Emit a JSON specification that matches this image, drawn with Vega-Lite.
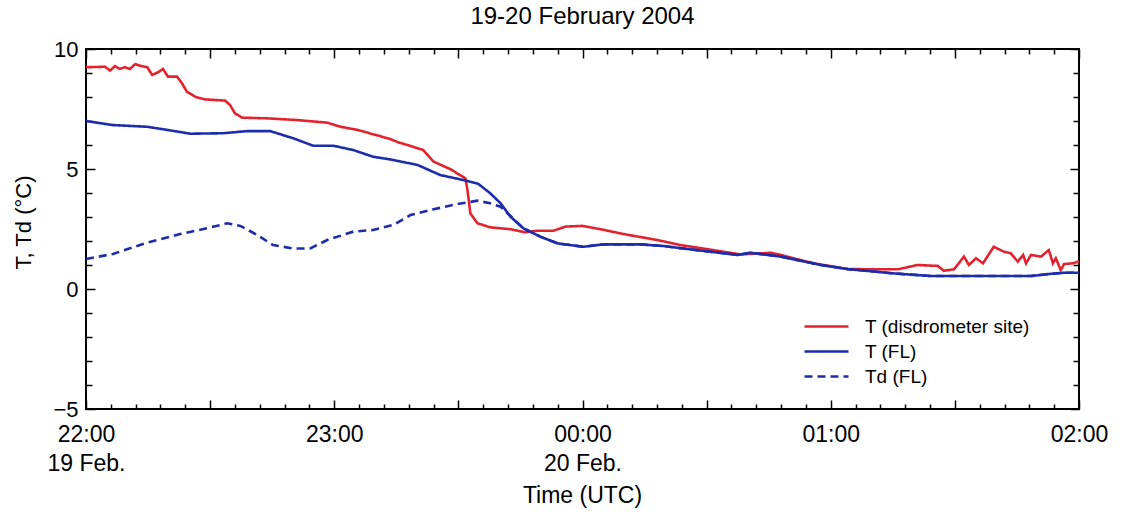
{
  "$schema": "https://vega.github.io/schema/vega-lite/v6.json",
  "width": 993,
  "height": 360,
  "autosize": "none",
  "padding": {"left": 86, "top": 49, "right": 42, "bottom": 107},
  "background": "white",
  "config": {
    "font": "Liberation Sans",
    "view": {"stroke": "black", "strokeWidth": 2},
    "axis": {"domain": false, "grid": false, "tickColor": "black", "tickWidth": 1.5, "labelColor": "black", "titleColor": "black", "labelFont": "Liberation Sans", "titleFont": "Liberation Sans", "titleFontWeight": "normal"}
  },
  "title": {"text": "19-20 February 2004", "fontSize": 24, "fontWeight": "normal", "font": "Liberation Sans", "color": "black", "anchor": "middle", "frame": "group", "baseline": "alphabetic", "offset": 21, "dy": 31},
  "datasets": {
    "temps": [
      {"min": 0, "T": 9.24, "series": "T (disdrometer site)"},
      {"min": 4.6, "T": 9.26, "series": "T (disdrometer site)"},
      {"min": 5.8, "T": 9.1, "series": "T (disdrometer site)"},
      {"min": 7.0, "T": 9.29, "series": "T (disdrometer site)"},
      {"min": 8.2, "T": 9.17, "series": "T (disdrometer site)"},
      {"min": 9.4, "T": 9.24, "series": "T (disdrometer site)"},
      {"min": 10.6, "T": 9.17, "series": "T (disdrometer site)"},
      {"min": 11.9, "T": 9.37, "series": "T (disdrometer site)"},
      {"min": 13.1, "T": 9.3, "series": "T (disdrometer site)"},
      {"min": 14.8, "T": 9.24, "series": "T (disdrometer site)"},
      {"min": 16.0, "T": 8.92, "series": "T (disdrometer site)"},
      {"min": 17.4, "T": 9.03, "series": "T (disdrometer site)"},
      {"min": 18.6, "T": 9.17, "series": "T (disdrometer site)"},
      {"min": 19.8, "T": 8.85, "series": "T (disdrometer site)"},
      {"min": 22.0, "T": 8.85, "series": "T (disdrometer site)"},
      {"min": 23.2, "T": 8.57, "series": "T (disdrometer site)"},
      {"min": 24.4, "T": 8.22, "series": "T (disdrometer site)"},
      {"min": 26.4, "T": 8.01, "series": "T (disdrometer site)"},
      {"min": 28.8, "T": 7.9, "series": "T (disdrometer site)"},
      {"min": 33.6, "T": 7.85, "series": "T (disdrometer site)"},
      {"min": 34.8, "T": 7.67, "series": "T (disdrometer site)"},
      {"min": 36.0, "T": 7.32, "series": "T (disdrometer site)"},
      {"min": 37.7, "T": 7.14, "series": "T (disdrometer site)"},
      {"min": 43.8, "T": 7.11, "series": "T (disdrometer site)"},
      {"min": 51.0, "T": 7.04, "series": "T (disdrometer site)"},
      {"min": 58.3, "T": 6.93, "series": "T (disdrometer site)"},
      {"min": 61.5, "T": 6.76, "series": "T (disdrometer site)"},
      {"min": 65.6, "T": 6.63, "series": "T (disdrometer site)"},
      {"min": 69.4, "T": 6.45, "series": "T (disdrometer site)"},
      {"min": 73.5, "T": 6.25, "series": "T (disdrometer site)"},
      {"min": 75.5, "T": 6.11, "series": "T (disdrometer site)"},
      {"min": 77.7, "T": 6.0, "series": "T (disdrometer site)"},
      {"min": 81.5, "T": 5.79, "series": "T (disdrometer site)"},
      {"min": 84.0, "T": 5.31, "series": "T (disdrometer site)"},
      {"min": 88.1, "T": 4.99, "series": "T (disdrometer site)"},
      {"min": 91.7, "T": 4.61, "series": "T (disdrometer site)"},
      {"min": 92.2, "T": 4.12, "series": "T (disdrometer site)"},
      {"min": 92.9, "T": 3.15, "series": "T (disdrometer site)"},
      {"min": 94.6, "T": 2.74, "series": "T (disdrometer site)"},
      {"min": 97.7, "T": 2.57, "series": "T (disdrometer site)"},
      {"min": 102.6, "T": 2.49, "series": "T (disdrometer site)"},
      {"min": 106.2, "T": 2.36, "series": "T (disdrometer site)"},
      {"min": 109.1, "T": 2.43, "series": "T (disdrometer site)"},
      {"min": 113.0, "T": 2.43, "series": "T (disdrometer site)"},
      {"min": 115.9, "T": 2.6, "series": "T (disdrometer site)"},
      {"min": 120.0, "T": 2.63, "series": "T (disdrometer site)"},
      {"min": 124.4, "T": 2.49, "series": "T (disdrometer site)"},
      {"min": 129.9, "T": 2.29, "series": "T (disdrometer site)"},
      {"min": 138.1, "T": 2.04, "series": "T (disdrometer site)"},
      {"min": 143.7, "T": 1.83, "series": "T (disdrometer site)"},
      {"min": 151.7, "T": 1.62, "series": "T (disdrometer site)"},
      {"min": 158.2, "T": 1.44, "series": "T (disdrometer site)"},
      {"min": 165.5, "T": 1.51, "series": "T (disdrometer site)"},
      {"min": 167.9, "T": 1.42, "series": "T (disdrometer site)"},
      {"min": 175.9, "T": 1.07, "series": "T (disdrometer site)"},
      {"min": 184.1, "T": 0.83, "series": "T (disdrometer site)"},
      {"min": 192.1, "T": 0.82, "series": "T (disdrometer site)"},
      {"min": 196.2, "T": 0.82, "series": "T (disdrometer site)"},
      {"min": 201.0, "T": 1.0, "series": "T (disdrometer site)"},
      {"min": 205.9, "T": 0.96, "series": "T (disdrometer site)"},
      {"min": 207.3, "T": 0.76, "series": "T (disdrometer site)"},
      {"min": 209.8, "T": 0.82, "series": "T (disdrometer site)"},
      {"min": 212.2, "T": 1.35, "series": "T (disdrometer site)"},
      {"min": 213.4, "T": 1.0, "series": "T (disdrometer site)"},
      {"min": 215.1, "T": 1.28, "series": "T (disdrometer site)"},
      {"min": 216.8, "T": 1.07, "series": "T (disdrometer site)"},
      {"min": 219.4, "T": 1.76, "series": "T (disdrometer site)"},
      {"min": 221.9, "T": 1.55, "series": "T (disdrometer site)"},
      {"min": 223.5, "T": 1.49, "series": "T (disdrometer site)"},
      {"min": 225.2, "T": 1.14, "series": "T (disdrometer site)"},
      {"min": 226.5, "T": 1.42, "series": "T (disdrometer site)"},
      {"min": 227.2, "T": 1.07, "series": "T (disdrometer site)"},
      {"min": 228.4, "T": 1.42, "series": "T (disdrometer site)"},
      {"min": 230.8, "T": 1.35, "series": "T (disdrometer site)"},
      {"min": 232.7, "T": 1.62, "series": "T (disdrometer site)"},
      {"min": 233.7, "T": 1.07, "series": "T (disdrometer site)"},
      {"min": 234.4, "T": 1.28, "series": "T (disdrometer site)"},
      {"min": 235.6, "T": 0.79, "series": "T (disdrometer site)"},
      {"min": 236.4, "T": 1.04, "series": "T (disdrometer site)"},
      {"min": 238.5, "T": 1.07, "series": "T (disdrometer site)"},
      {"min": 240, "T": 1.15, "series": "T (disdrometer site)"},

      {"min": 0, "T": 7.0, "series": "T (FL)"},
      {"min": 6.5, "T": 6.83, "series": "T (FL)"},
      {"min": 14.8, "T": 6.76, "series": "T (FL)"},
      {"min": 19.6, "T": 6.63, "series": "T (FL)"},
      {"min": 25.2, "T": 6.47, "series": "T (FL)"},
      {"min": 33.1, "T": 6.49, "series": "T (FL)"},
      {"min": 39.0, "T": 6.58, "series": "T (FL)"},
      {"min": 44.5, "T": 6.58, "series": "T (FL)"},
      {"min": 50.1, "T": 6.28, "series": "T (FL)"},
      {"min": 54.9, "T": 5.97, "series": "T (FL)"},
      {"min": 59.8, "T": 5.97, "series": "T (FL)"},
      {"min": 64.6, "T": 5.79, "series": "T (FL)"},
      {"min": 69.4, "T": 5.51, "series": "T (FL)"},
      {"min": 73.5, "T": 5.4, "series": "T (FL)"},
      {"min": 80.1, "T": 5.17, "series": "T (FL)"},
      {"min": 85.6, "T": 4.75, "series": "T (FL)"},
      {"min": 91.2, "T": 4.54, "series": "T (FL)"},
      {"min": 94.8, "T": 4.38, "series": "T (FL)"},
      {"min": 97.7, "T": 3.99, "series": "T (FL)"},
      {"min": 100.2, "T": 3.57, "series": "T (FL)"},
      {"min": 102.6, "T": 3.01, "series": "T (FL)"},
      {"min": 105.7, "T": 2.53, "series": "T (FL)"},
      {"min": 109.8, "T": 2.18, "series": "T (FL)"},
      {"min": 114.0, "T": 1.9, "series": "T (FL)"},
      {"min": 120.2, "T": 1.76, "series": "T (FL)"},
      {"min": 125.1, "T": 1.86, "series": "T (FL)"},
      {"min": 134.0, "T": 1.86, "series": "T (FL)"},
      {"min": 139.6, "T": 1.79, "series": "T (FL)"},
      {"min": 146.1, "T": 1.65, "series": "T (FL)"},
      {"min": 157.5, "T": 1.42, "series": "T (FL)"},
      {"min": 160.6, "T": 1.51, "series": "T (FL)"},
      {"min": 167.9, "T": 1.35, "series": "T (FL)"},
      {"min": 177.6, "T": 1.0, "series": "T (FL)"},
      {"min": 184.1, "T": 0.83, "series": "T (FL)"},
      {"min": 195.2, "T": 0.65, "series": "T (FL)"},
      {"min": 204.2, "T": 0.54, "series": "T (FL)"},
      {"min": 216.3, "T": 0.54, "series": "T (FL)"},
      {"min": 228.4, "T": 0.54, "series": "T (FL)"},
      {"min": 232.5, "T": 0.62, "series": "T (FL)"},
      {"min": 236.4, "T": 0.68, "series": "T (FL)"},
      {"min": 240, "T": 0.68, "series": "T (FL)"},

      {"min": 0, "T": 1.25, "series": "Td (FL)"},
      {"min": 6.5, "T": 1.46, "series": "Td (FL)"},
      {"min": 14.8, "T": 1.93, "series": "Td (FL)"},
      {"min": 22.7, "T": 2.29, "series": "Td (FL)"},
      {"min": 29.3, "T": 2.53, "series": "Td (FL)"},
      {"min": 34.1, "T": 2.74, "series": "Td (FL)"},
      {"min": 37.3, "T": 2.63, "series": "Td (FL)"},
      {"min": 41.4, "T": 2.25, "series": "Td (FL)"},
      {"min": 45.2, "T": 1.83, "series": "Td (FL)"},
      {"min": 50.1, "T": 1.69, "series": "Td (FL)"},
      {"min": 54.2, "T": 1.69, "series": "Td (FL)"},
      {"min": 58.3, "T": 2.04, "series": "Td (FL)"},
      {"min": 64.6, "T": 2.39, "series": "Td (FL)"},
      {"min": 69.4, "T": 2.46, "series": "Td (FL)"},
      {"min": 74.3, "T": 2.67, "series": "Td (FL)"},
      {"min": 78.4, "T": 3.08, "series": "Td (FL)"},
      {"min": 84.0, "T": 3.32, "series": "Td (FL)"},
      {"min": 89.8, "T": 3.54, "series": "Td (FL)"},
      {"min": 94.6, "T": 3.68, "series": "Td (FL)"},
      {"min": 97.7, "T": 3.57, "series": "Td (FL)"},
      {"min": 100.2, "T": 3.43, "series": "Td (FL)"},
      {"min": 102.6, "T": 3.04, "series": "Td (FL)"},
      {"min": 105.7, "T": 2.53, "series": "Td (FL)"},
      {"min": 109.8, "T": 2.18, "series": "Td (FL)"},
      {"min": 114.0, "T": 1.9, "series": "Td (FL)"},
      {"min": 120.2, "T": 1.76, "series": "Td (FL)"},
      {"min": 125.1, "T": 1.86, "series": "Td (FL)"},
      {"min": 134.0, "T": 1.86, "series": "Td (FL)"},
      {"min": 139.6, "T": 1.79, "series": "Td (FL)"},
      {"min": 146.1, "T": 1.65, "series": "Td (FL)"},
      {"min": 157.5, "T": 1.42, "series": "Td (FL)"},
      {"min": 160.6, "T": 1.51, "series": "Td (FL)"},
      {"min": 167.9, "T": 1.35, "series": "Td (FL)"},
      {"min": 177.6, "T": 1.0, "series": "Td (FL)"},
      {"min": 184.1, "T": 0.83, "series": "Td (FL)"},
      {"min": 195.2, "T": 0.65, "series": "Td (FL)"},
      {"min": 204.2, "T": 0.54, "series": "Td (FL)"},
      {"min": 216.3, "T": 0.54, "series": "Td (FL)"},
      {"min": 228.4, "T": 0.54, "series": "Td (FL)"},
      {"min": 232.5, "T": 0.62, "series": "Td (FL)"},
      {"min": 236.4, "T": 0.68, "series": "Td (FL)"},
      {"min": 240, "T": 0.68, "series": "Td (FL)"}
    ]
  },
  "layer": [
    {
      "mark": {"type": "rule", "color": "black", "strokeWidth": 2},
      "encoding": {
        "y": {"datum": 0, "type": "quantitative", "axis": {"orient": "right", "labels": false, "title": null, "values": [-5, -4, -3, -2, -1, 0, 1, 2, 3, 4, 5, 6, 7, 8, 9, 10], "tickSize": {"condition": {"test": "datum.value % 5 === 0", "value": -9}, "value": -6}}},
        "x": {"datum": 0, "type": "quantitative", "axis": {"orient": "top", "labels": false, "title": null, "values": [0, 6, 12, 18, 24, 30, 36, 42, 48, 54, 60, 66, 72, 78, 84, 90, 96, 102, 108, 114, 120, 126, 132, 138, 144, 150, 156, 162, 168, 174, 180, 186, 192, 198, 204, 210, 216, 222, 228, 234, 240], "tickSize": {"condition": {"test": "datum.value % 30 === 0", "value": -9}, "value": -5}}},
        "x2": {"datum": 240}
      }
    },
    {
      "data": {"name": "temps"},
      "mark": {"type": "line", "strokeWidth": 2.6, "interpolate": "linear"},
      "encoding": {
        "x": {
          "field": "min", "type": "quantitative",
          "scale": {"domain": [0, 240], "nice": false, "zero": false},
          "axis": {
            "orient": "bottom",
            "values": [0, 6, 12, 18, 24, 30, 36, 42, 48, 54, 60, 66, 72, 78, 84, 90, 96, 102, 108, 114, 120, 126, 132, 138, 144, 150, 156, 162, 168, 174, 180, 186, 192, 198, 204, 210, 216, 222, 228, 234, 240],
            "tickSize": {"condition": {"test": "datum.value % 30 === 0", "value": -9}, "value": -5},
            "labelExpr": "datum.value === 0 ? ['22:00', '19 Feb.'] : datum.value === 60 ? '23:00' : datum.value === 120 ? ['00:00', '20 Feb.'] : datum.value === 180 ? '01:00' : datum.value === 240 ? '02:00' : ''",
            "labelFontSize": 23, "labelLineHeight": 29, "labelPadding": 23, "labelOverlap": false, "labelFlush": false,
            "title": "Time (UTC)", "titleFontSize": 23, "titleX": 496, "titleY": 86, "titleBaseline": "middle", "titleAlign": "center"
          }
        },
        "y": {
          "field": "T", "type": "quantitative",
          "scale": {"domain": [-5, 10], "nice": false, "zero": false},
          "axis": {
            "orient": "left",
            "values": [-5, -4, -3, -2, -1, 0, 1, 2, 3, 4, 5, 6, 7, 8, 9, 10],
            "tickSize": {"condition": {"test": "datum.value % 5 === 0", "value": -9}, "value": -6},
            "labelExpr": "datum.value === -5 ? '\u22125' : datum.value % 5 === 0 ? format(datum.value, 'd') : ''",
            "labelFontSize": 22, "labelPadding": 17, "labelOverlap": false, "labelFlush": false,
            "title": "T, Td (°C)", "titleFontSize": 22, "titleAngle": -90, "titleX": -63, "titleY": 173, "titleBaseline": "middle", "titleAlign": "center"
          }
        },
        "color": {
          "field": "series", "type": "nominal",
          "scale": {"domain": ["T (disdrometer site)", "T (FL)", "Td (FL)"], "range": ["#e3222d", "#1d2cab", "#1d2cab"]},
          "legend": {
            "orient": "none", "legendX": 731, "legendY": 268, "title": null,
            "symbolType": "M-4,0H4", "symbolSize": 121, "symbolStrokeWidth": 2.5,
            "labelFontSize": 19, "labelFont": "Liberation Sans", "labelColor": "black", "labelOffset": 29, "labelLimit": 400,
            "rowPadding": 5
          }
        },
        "strokeDash": {
          "field": "series", "type": "nominal",
          "scale": {"domain": ["T (disdrometer site)", "T (FL)", "Td (FL)"], "range": [[1, 0], [1, 0], [8, 5]]},
          "legend": null
        }
      }
    }
  ],
  "resolve": {"axis": {"x": "independent", "y": "independent"}}
}
